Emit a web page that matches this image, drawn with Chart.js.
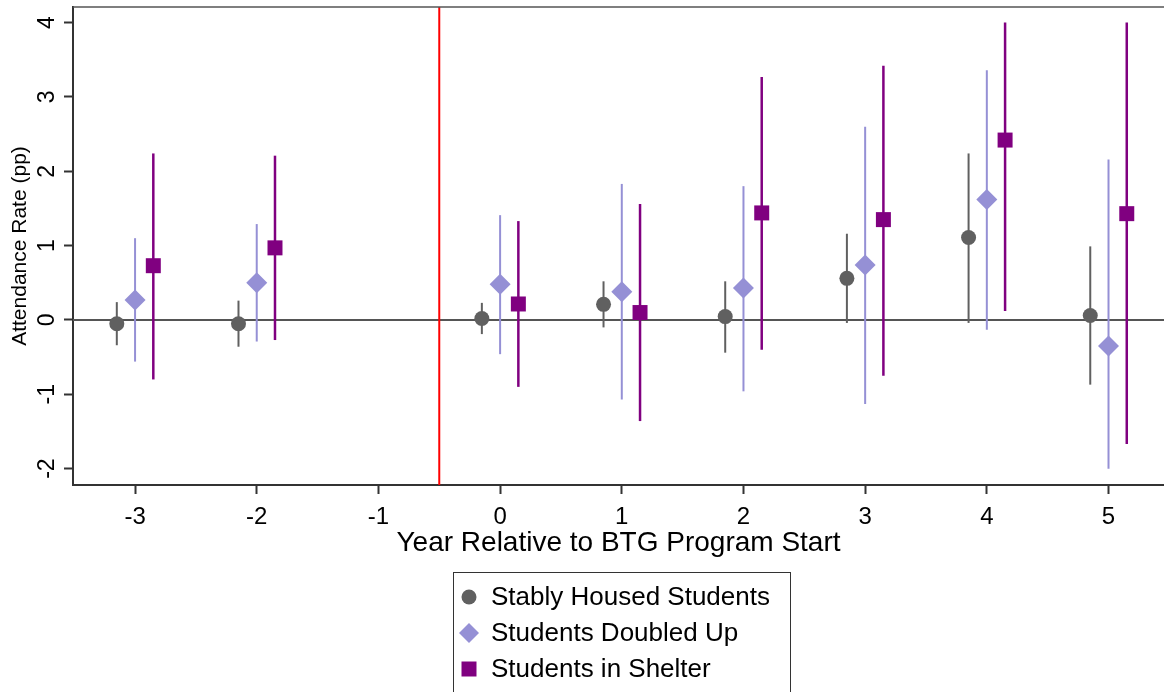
<!DOCTYPE html>
<html>
<head>
  <title>Attendance Rate by Year Relative to BTG Program Start</title>
  <script src="https://cdn.jsdelivr.net/npm/chart.js"></script>
  <style>
    body { margin: 0; background: #fff; overflow: hidden; }
  </style>
</head>
<body>
  <canvas id="eventChart" width="1164" height="692"></canvas>

  <script>
    // event years that have estimates (year -1 is the reference year)
    const years = [-3, -2, 0, 1, 2, 3, 4, 5];
    const xTicks = [-3, -2, -1, 0, 1, 2, 3, 4, 5];
    const yTicks = [-2, -1, 0, 1, 2, 3, 4];

    const stablyHoused     = [-0.05, -0.05, 0.02, 0.21, 0.045, 0.56, 1.11, 0.06];
    const stablyHousedLow  = [-0.34, -0.36, -0.19, -0.10, -0.44, -0.04, -0.04, -0.87];
    const stablyHousedHigh = [0.24, 0.26, 0.23, 0.52, 0.52, 1.16, 2.24, 0.99];

    const doubledUp     = [0.27, 0.50, 0.48, 0.38, 0.43, 0.74, 1.62, -0.35];
    const doubledUpLow  = [-0.56, -0.29, -0.46, -1.07, -0.96, -1.13, -0.13, -2.00];
    const doubledUpHigh = [1.10, 1.29, 1.41, 1.83, 1.80, 2.60, 3.36, 2.16];

    const shelter     = [0.73, 0.97, 0.215, 0.10, 1.44, 1.35, 2.42, 1.43];
    const shelterLow  = [-0.80, -0.27, -0.90, -1.36, -0.40, -0.75, 0.12, -1.67];
    const shelterHigh = [2.24, 2.21, 1.33, 1.56, 3.27, 3.42, 4.00, 4.00];

    const programStart = -0.5;
    const dodge = 0.15;

    const FONT = "'Liberation Sans', Arial, sans-serif";
    const GRAY = '#606060';
    const LAVENDER = '#9590d5';
    const PURPLE = '#800080';

    const toPoints = (vals, shift) => years.map((yr, i) => ({ x: yr + shift, y: vals[i] }));

    // no extra room for edge tick labels, the frame is fixed
    const noPadding = s => {
      s.paddingTop = 0; s.paddingBottom = 0; s.paddingLeft = 0; s.paddingRight = 0;
    };

    // zero line, program start line and CI lines, all under the markers
    const errorBars = {
      id: 'errorBars',
      beforeDatasetsDraw(chart) {
        const { ctx, chartArea, scales: { x, y } } = chart;
        ctx.save();
        ctx.beginPath();
        ctx.rect(chartArea.left, chartArea.top, chartArea.width, chartArea.height);
        ctx.clip();

        ctx.strokeStyle = '#555';
        ctx.lineWidth = 2;
        ctx.beginPath();
        ctx.moveTo(chartArea.left, y.getPixelForValue(0));
        ctx.lineTo(chartArea.right, y.getPixelForValue(0));
        ctx.stroke();

        ctx.strokeStyle = '#ff0000';
        ctx.lineWidth = 2;
        ctx.beginPath();
        ctx.moveTo(x.getPixelForValue(programStart), chartArea.top);
        ctx.lineTo(x.getPixelForValue(programStart), chartArea.bottom);
        ctx.stroke();

        chart.data.datasets.forEach(ds => {
          ctx.strokeStyle = ds.barColor;
          ctx.lineWidth = ds.barWidth;
          ds.data.forEach((p, i) => {
            const px = x.getPixelForValue(p.x);
            ctx.beginPath();
            ctx.moveTo(px, y.getPixelForValue(ds.low[i]));
            ctx.lineTo(px, y.getPixelForValue(ds.high[i]));
            ctx.stroke();
          });
        });
        ctx.restore();
      }
    };

    // top frame line + boxed legend under the axis title
    const frameAndLegend = {
      id: 'frameAndLegend',
      afterDraw(chart) {
        const { ctx, chartArea } = chart;
        ctx.save();
        ctx.strokeStyle = '#555';
        ctx.lineWidth = 1.5;
        ctx.beginPath();
        ctx.moveTo(chartArea.left, chartArea.top);
        ctx.lineTo(chartArea.right, chartArea.top);
        ctx.stroke();

        const boxLeft = 453, boxTop = 572, boxW = 337, boxH = 130;
        ctx.strokeStyle = '#333';
        ctx.lineWidth = 1;
        ctx.strokeRect(boxLeft + 0.5, boxTop + 0.5, boxW, boxH);

        ctx.font = '26px ' + FONT;
        ctx.textBaseline = 'middle';
        ctx.textAlign = 'left';
        chart.data.datasets.forEach((ds, i) => {
          const cy = 597 + i * 36;
          const cx = 469;
          ctx.fillStyle = ds.backgroundColor;
          ctx.beginPath();
          if (ds.pointStyle === 'circle') {
            ctx.arc(cx, cy, 7.5, 0, Math.PI * 2);
          } else if (ds.pointStyle === 'rectRot') {
            ctx.moveTo(cx, cy - 10);
            ctx.lineTo(cx + 10, cy);
            ctx.lineTo(cx, cy + 10);
            ctx.lineTo(cx - 10, cy);
            ctx.closePath();
          } else {
            ctx.rect(cx - 7.5, cy - 7.5, 15, 15);
          }
          ctx.fill();
          ctx.fillStyle = '#000';
          ctx.fillText(ds.label, 491, cy + 1);
        });
        ctx.restore();
      }
    };

    new Chart(document.getElementById('eventChart'), {
      type: 'scatter',
      data: {
        datasets: [
          {
            label: 'Stably Housed Students',
            data: toPoints(stablyHoused, -dodge),
            low: stablyHousedLow, high: stablyHousedHigh,
            barColor: GRAY, barWidth: 2,
            pointStyle: 'circle', pointRadius: 7.5,
            backgroundColor: GRAY, borderWidth: 0
          },
          {
            label: 'Students Doubled Up',
            data: toPoints(doubledUp, 0),
            low: doubledUpLow, high: doubledUpHigh,
            barColor: LAVENDER, barWidth: 2,
            pointStyle: 'rectRot', pointRadius: 10.5,
            backgroundColor: LAVENDER, borderWidth: 0
          },
          {
            label: 'Students in Shelter',
            data: toPoints(shelter, dodge),
            low: shelterLow, high: shelterHigh,
            barColor: PURPLE, barWidth: 2.5,
            pointStyle: 'rect', pointRadius: 10.6,
            backgroundColor: PURPLE, borderWidth: 0
          }
        ]
      },
      options: {
        responsive: false,
        animation: false,
        devicePixelRatio: 1,
        layout: { autoPadding: false, padding: { top: 7, right: 0, bottom: 132, left: 0 } },
        plugins: {
          legend: { display: false },
          tooltip: { enabled: false }
        },
        scales: {
          x: {
            type: 'linear',
            min: -3.51,
            max: 5.456,
            afterBuildTicks: s => { s.ticks = xTicks.map(v => ({ value: v })); },
            afterFit: s => { s.height = 75; noPadding(s); },
            grid: { drawOnChartArea: false, drawTicks: true, tickLength: 9, tickColor: '#333', tickWidth: 2 },
            border: { display: true, color: '#333', width: 2 },
            ticks: { color: '#000', padding: 9, font: { family: FONT, size: 24 } },
            title: {
              display: true,
              text: 'Year Relative to BTG Program Start',
              color: '#000',
              padding: { top: 0, bottom: 0 },
              font: { family: FONT, size: 28 }
            }
          },
          y: {
            min: -2.22,
            max: 4.21,
            afterBuildTicks: s => { s.ticks = yTicks.map(v => ({ value: v })); },
            afterFit: s => { s.width = 73; noPadding(s); },
            grid: {
              drawOnChartArea: false, drawTicks: true, tickLength: 9, tickColor: '#333', tickWidth: 2
            },
            border: { display: true, color: '#333', width: 2 },
            ticks: {
              color: '#000', padding: 6, minRotation: 90, maxRotation: 90,
              crossAlign: 'center',
              font: { family: FONT, size: 23 }
            },
            title: {
              display: true,
              text: 'Attendance Rate (pp)',
              color: '#000',
              padding: { top: 8, bottom: 0 },
              font: { family: FONT, size: 21 }
            }
          }
        }
      },
      plugins: [errorBars, frameAndLegend]
    });
  </script>
</body>
</html>
